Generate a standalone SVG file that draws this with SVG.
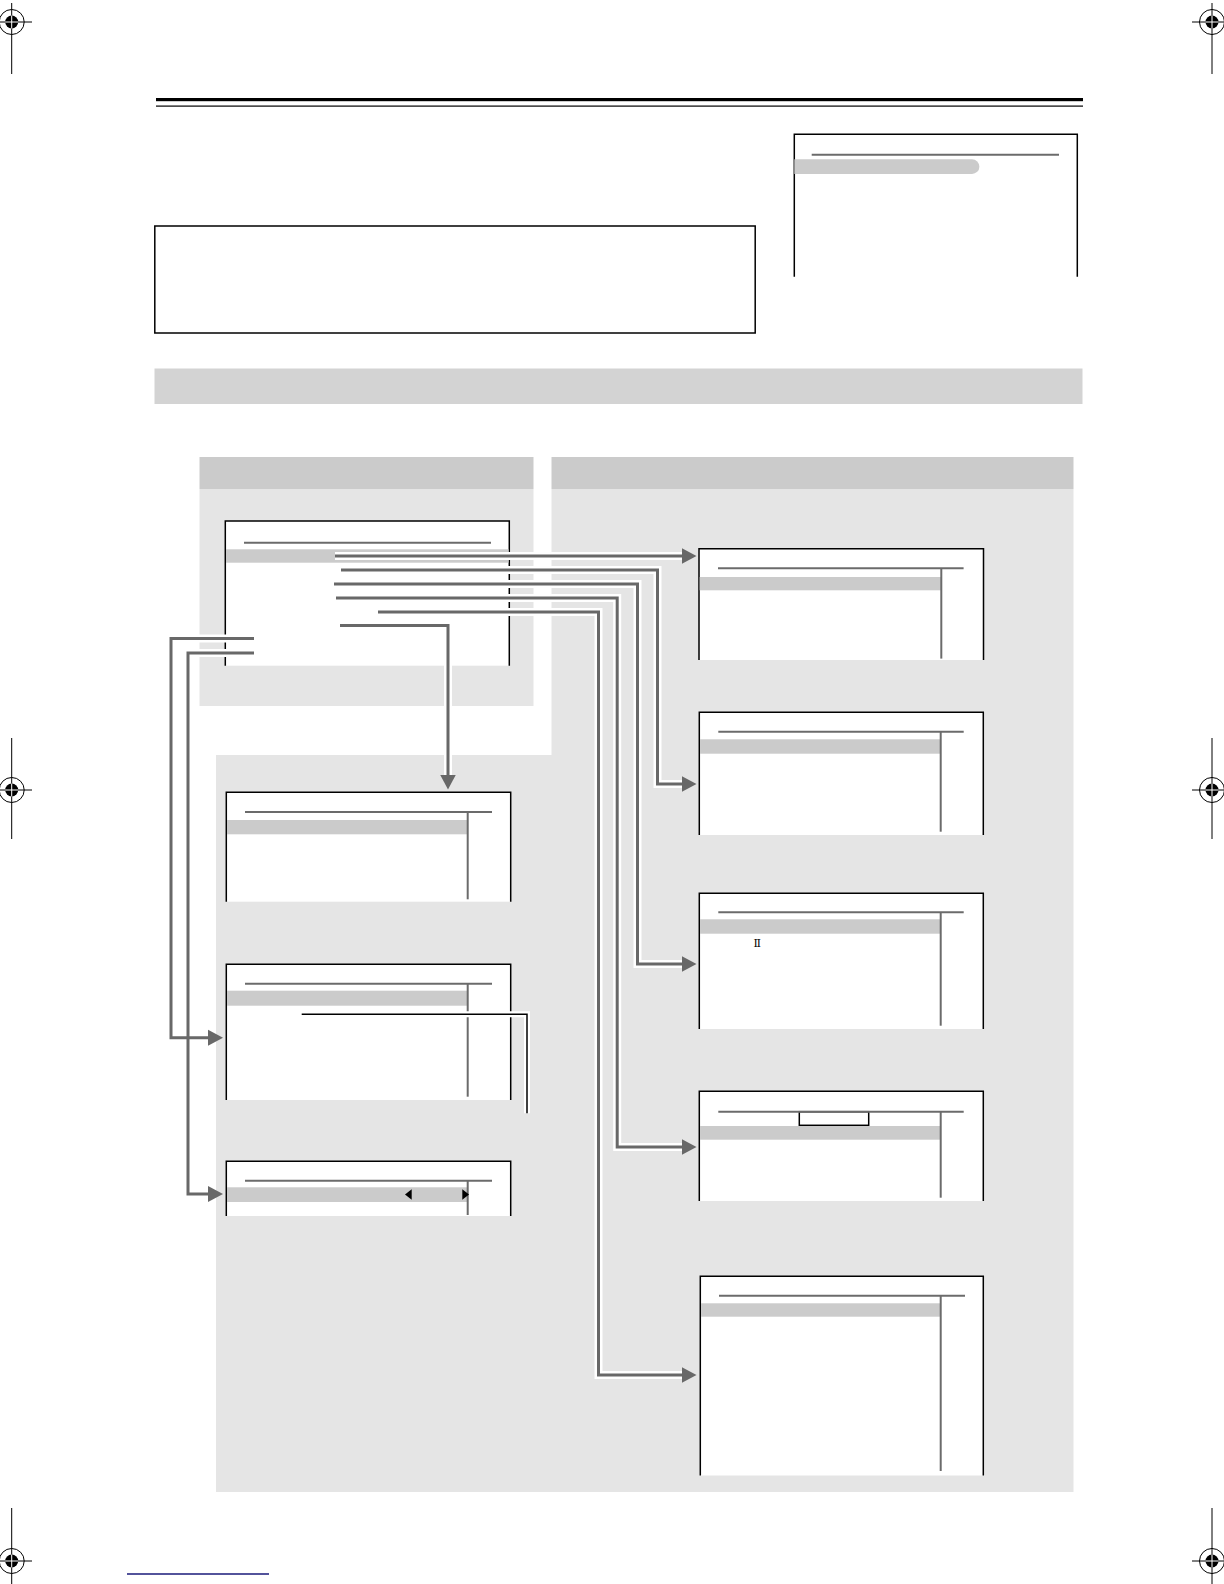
<svg xmlns="http://www.w3.org/2000/svg" width="1224" height="1584" viewBox="0 0 1224 1584">
<style>
.reg line{stroke:#000;stroke-width:1}
.reg .ring{fill:none;stroke:#000;stroke-width:1}
.reg .dot{fill:#000}
.reg .x{stroke:#fff;stroke-width:1}
.frame{fill:none;stroke:#000;stroke-width:1.5}
.paper{fill:#fff}
.rule{stroke:#6b6b6b;stroke-width:2;fill:none}
.hl{fill:#cbcbcb}
.hdr{fill:#cbcbcb}
.body{fill:#e5e5e5}
.halo{fill:none;stroke:#fff;stroke-width:8}
.conn{fill:none;stroke:#686868;stroke-width:3}
.thin{fill:none;stroke:#000;stroke-width:1.5}
.tri{fill:#000}
</style>
<defs>
<marker id="ah" markerUnits="userSpaceOnUse" markerWidth="16" markerHeight="17" refX="7" refY="8" orient="auto" viewBox="0 0 16 16">
<path d="M0,0 L15,8 L0,16 Z" fill="#686868"/>
</marker>
<g id="regmark" class="reg">
<circle class="ring" cx="0" cy="0" r="12.5"/>
<circle class="dot" cx="0" cy="0" r="6.5"/>
<line class="x" x1="-6.5" y1="0" x2="6.5" y2="0"/>
<line class="x" x1="0" y1="-6.5" x2="0" y2="6.5"/>
</g>
</defs>

<rect width="1224" height="1584" fill="#fff"/>

<!-- registration marks -->
<g id="reg-tl" class="reg">
<line x1="11.7" y1="3" x2="11.7" y2="74"/><line x1="0" y1="22" x2="32" y2="22"/>
<use href="#regmark" x="11.7" y="22"/>
</g>
<g id="reg-tr" class="reg">
<line x1="1212" y1="3" x2="1212" y2="74"/><line x1="1192" y1="22" x2="1224" y2="22"/>
<use href="#regmark" x="1212" y="22"/>
</g>
<g id="reg-ml" class="reg">
<line x1="11.7" y1="738" x2="11.7" y2="839"/><line x1="0" y1="790" x2="32" y2="790"/>
<use href="#regmark" x="11.7" y="790"/>
</g>
<g id="reg-mr" class="reg">
<line x1="1212" y1="738" x2="1212" y2="839"/><line x1="1192" y1="790" x2="1224" y2="790"/>
<use href="#regmark" x="1212" y="790"/>
</g>
<g id="reg-bl" class="reg">
<line x1="11.7" y1="1508" x2="11.7" y2="1584"/><line x1="0" y1="1561" x2="32" y2="1561"/>
<use href="#regmark" x="11.7" y="1561"/>
</g>
<g id="reg-br" class="reg">
<line x1="1212" y1="1508" x2="1212" y2="1584"/><line x1="1192" y1="1561" x2="1224" y2="1561"/>
<use href="#regmark" x="1212" y="1561"/>
</g>

<!-- header rule -->
<g id="top-rule">
<rect x="156" y="98" width="927" height="3.2" fill="#000"/>
<rect x="156" y="105.5" width="927" height="1.2" fill="#000"/>
</g>

<!-- top right screen -->
<g id="screen-top">
<rect class="paper" x="794.3" y="134.3" width="283" height="142.4"/>
<path class="frame" d="M794.3,276.7 V134.3 H1077.3 V276.7"/>
<line class="rule" x1="811.7" y1="154.7" x2="1059" y2="154.7"/>
<path class="hl" d="M794.3,159.3 H972 A7.3,7.3 0 0 1 972,174 H794.3 Z"/>
</g>

<!-- note box -->
<g id="note-box">
<rect class="frame" x="154.8" y="226" width="600.4" height="107"/>
</g>

<!-- banner -->
<g id="banner">
<rect x="154.5" y="368.5" width="928" height="35.5" fill="#d3d3d3"/>
</g>

<!-- panels -->
<g id="panel-left">
<rect class="hdr" x="199.5" y="457" width="334" height="32"/>
<rect class="body" x="199.5" y="489" width="334" height="217"/>
</g>
<g id="panel-right">
<rect class="hdr" x="551.5" y="457" width="522" height="32"/>
<path class="body" d="M551.5,489 H1073.5 V1492 H216 V755 H551.5 Z"/>
</g>

<!-- main menu -->
<g id="menu-main">
<rect class="paper" x="225.3" y="521" width="284" height="144.7"/>
<path class="frame" d="M225.3,665.7 V521 H509.3 V665.7"/>
<line class="rule" x1="244" y1="542.7" x2="491" y2="542.7"/>
<rect class="hl" x="226" y="549.3" width="282.5" height="13.4"/>
</g>

<!-- right column screens -->
<g id="screen-r1">
<rect class="paper" x="699" y="548.7" width="284.5" height="111.3"/>
<path class="frame" d="M699,660 V548.7 H983.5 V660"/>
<line class="rule" x1="718" y1="568.3" x2="963.6" y2="568.3"/>
<rect class="hl" x="699.7" y="577" width="241.6" height="13.3"/>
<line class="rule" x1="941.3" y1="568.3" x2="941.3" y2="658.6"/>
</g>
<g id="screen-r2">
<rect class="paper" x="699.3" y="712.3" width="284" height="122.7"/>
<path class="frame" d="M699.3,835 V712.3 H983.3 V835"/>
<line class="rule" x1="718.3" y1="731.7" x2="963.7" y2="731.7"/>
<rect class="hl" x="700" y="739.3" width="240.7" height="14.4"/>
<line class="rule" x1="940.7" y1="731.7" x2="940.7" y2="831.7"/>
</g>
<g id="screen-r3">
<rect class="paper" x="699.3" y="893.3" width="284" height="135.7"/>
<path class="frame" d="M699.3,1029 V893.3 H983.3 V1029"/>
<line class="rule" x1="718.3" y1="912.3" x2="963.7" y2="912.3"/>
<rect class="hl" x="700" y="919.3" width="240.7" height="14.4"/>
<line class="rule" x1="940.7" y1="912.3" x2="940.7" y2="1025.7"/>
<text x="757.3" y="947" font-family="DejaVu Serif, serif" font-size="11" text-anchor="middle" fill="#000">Ⅱ</text>
</g>
<g id="screen-r4">
<rect class="paper" x="699.3" y="1091.3" width="284" height="109.7"/>
<path class="frame" d="M699.3,1201 V1091.3 H983.3 V1201"/>
<rect x="799.3" y="1111.7" width="69.4" height="13.6" fill="#fff" stroke="#000" stroke-width="1.5"/>
<line class="rule" x1="718.3" y1="1111.7" x2="963.7" y2="1111.7"/>
<rect class="hl" x="700" y="1126" width="240.7" height="13.7"/>
<line class="rule" x1="940.7" y1="1111.7" x2="940.7" y2="1197.7"/>
</g>
<g id="screen-r5">
<rect class="paper" x="700.3" y="1276.3" width="283" height="199.2"/>
<path class="frame" d="M700.3,1475.5 V1276.3 H983.3 V1475.5"/>
<line class="rule" x1="719" y1="1295.7" x2="965" y2="1295.7"/>
<rect class="hl" x="701" y="1303.3" width="239.7" height="13.4"/>
<line class="rule" x1="940.7" y1="1295.7" x2="940.7" y2="1471"/>
</g>

<!-- left column screens -->
<g id="screen-l1">
<rect class="paper" x="226.3" y="792.3" width="284.4" height="109.4"/>
<path class="frame" d="M226.3,901.7 V792.3 H510.7 V901.7"/>
<line class="rule" x1="245" y1="812" x2="492" y2="812"/>
<rect class="hl" x="227" y="820" width="240.7" height="14.3"/>
<line class="rule" x1="467.7" y1="812" x2="467.7" y2="899.3"/>
</g>
<g id="screen-l2">
<rect class="paper" x="226.3" y="964.3" width="284.4" height="135.7"/>
<path class="frame" d="M226.3,1100 V964.3 H510.7 V1100"/>
<line class="rule" x1="245" y1="983.7" x2="492" y2="983.7"/>
<rect class="hl" x="227" y="990.7" width="240.7" height="15"/>
<line class="rule" x1="467.7" y1="983.7" x2="467.7" y2="1096.7"/>
</g>
<g id="screen-l3">
<rect class="paper" x="226.3" y="1161.3" width="284.4" height="54.7"/>
<path class="frame" d="M226.3,1216 V1161.3 H510.7 V1216"/>
<line class="rule" x1="245" y1="1180.7" x2="492" y2="1180.7"/>
<rect class="hl" x="227" y="1187.3" width="240.7" height="14.7"/>
<line class="rule" x1="467.7" y1="1180.7" x2="467.7" y2="1215"/>
<polygon class="tri" points="411.7,1189.3 405,1194.5 411.7,1199.7"/>
<polygon class="tri" points="462.3,1189.3 469,1194.5 462.3,1199.7"/>
</g>

<!-- connectors -->
<g id="connectors">
<g id="halos">
<path class="halo" d="M335,556 H688"/>
<path class="halo" d="M341,570 H657.5 V784 H688"/>
<path class="halo" d="M334,584 H637.5 V964 H688"/>
<path class="halo" d="M336,598 H617.2 V1147 H688"/>
<path class="halo" d="M378,612 H598.5 V1375 H688"/>
<path class="halo" d="M340,625.5 H448 V781"/>
<path class="halo" d="M254,638.5 H171 V1037.7 H214.7"/>
<path class="halo" d="M254,653 H188 V1194 H214.7"/>
<path fill="none" stroke="#fff" stroke-width="6" d="M301.7,1014.3 H527 V1113.3"/>
</g>
<path class="conn" d="M335,556 H688.5" marker-end="url(#ah)"/>
<path class="conn" d="M341,570 H657.5 V784 H688.5" marker-end="url(#ah)"/>
<path class="conn" d="M334,584 H637.5 V964 H688.5" marker-end="url(#ah)"/>
<path class="conn" d="M336,598 H617.2 V1147 H688.5" marker-end="url(#ah)"/>
<path class="conn" d="M378,612 H598.5 V1375 H688.5" marker-end="url(#ah)"/>
<path class="conn" d="M340,625.5 H448 V781.5" marker-end="url(#ah)"/>
<path class="conn" d="M254,638.5 H171 V1037.7 H215" marker-end="url(#ah)"/>
<path class="conn" d="M254,653 H188 V1194 H215" marker-end="url(#ah)"/>
<path class="thin" d="M301.7,1014.3 H527 V1113.3"/>
</g>

<!-- footer line -->
<g id="footer">
<line x1="127" y1="1574" x2="269" y2="1574" stroke="#1a1a7a" stroke-width="1.5"/>
</g>
</svg>
